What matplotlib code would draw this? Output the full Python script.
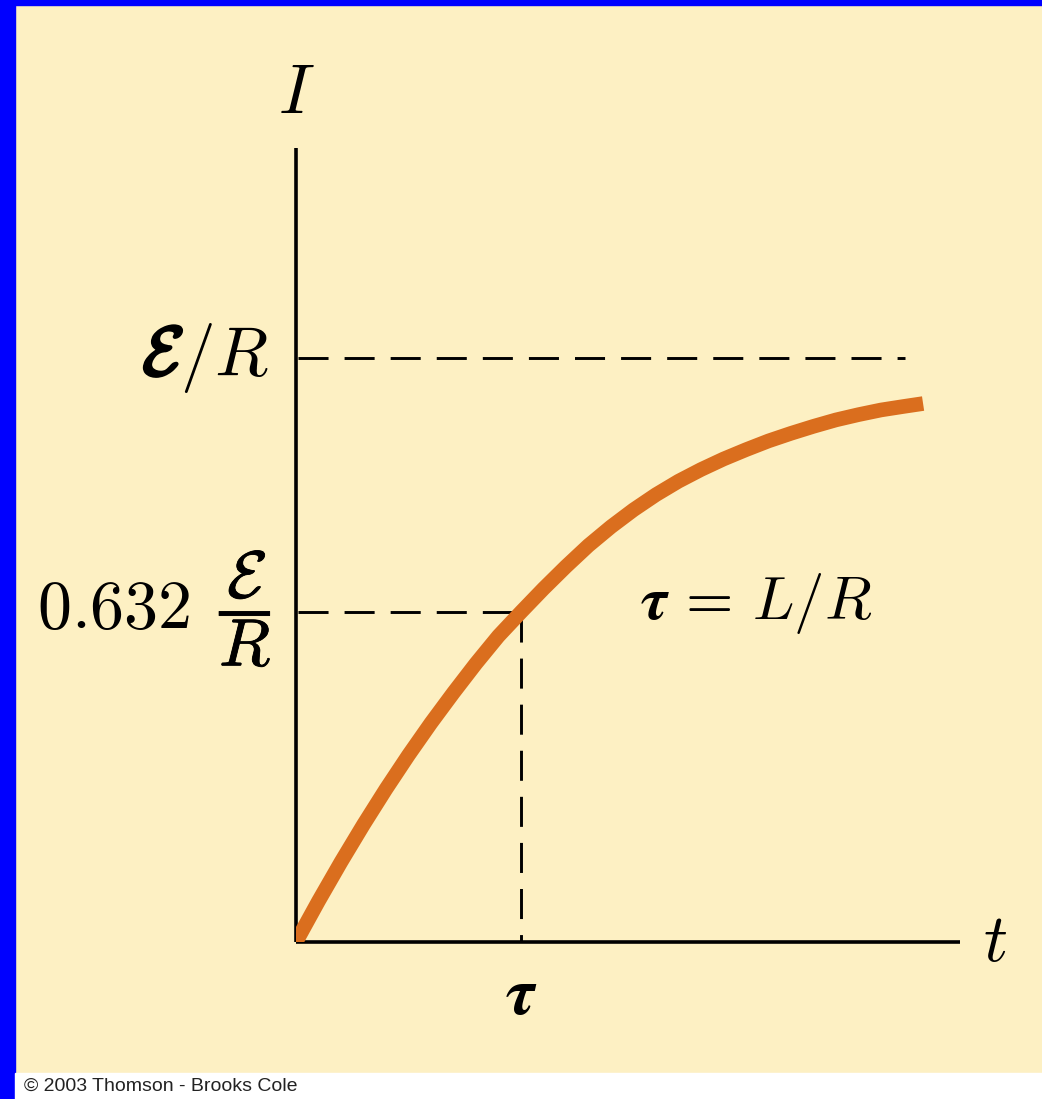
import matplotlib
matplotlib.use("Agg")
import matplotlib.pyplot as plt
from matplotlib.patches import Rectangle
import matplotlib.patheffects as pe

plt.rcParams['mathtext.fontset'] = 'cm'

# curve (t in units of tau, I in units of E/R)
t_vals = [0.0, 0.1, 0.2, 0.3, 0.4, 0.5, 0.6, 0.7, 0.8, 0.9, 1.0, 1.1, 1.2, 1.3, 1.4,
          1.5, 1.6, 1.7, 1.8, 1.9, 2.0, 2.1, 2.2, 2.3, 2.4, 2.5, 2.6, 2.7, 2.787]
i_vals = [0.0, 0.070, 0.137, 0.201, 0.262, 0.320, 0.375, 0.427, 0.477, 0.524, 0.565, 0.605,
          0.643, 0.679, 0.711, 0.740, 0.766, 0.789, 0.809, 0.827, 0.843, 0.858, 0.871,
          0.883, 0.894, 0.903, 0.911, 0.917, 0.922]

tau = 1.0
tau_level = 0.565   # where the 0.632 E/R dashed line sits
full_level = 1.0    # E/R
full_line_end = 2.707

cream = '#FDF0C3'
orange = '#DA6E1E'
blue = '#0000FF'

W, H = 1042, 1099
fig = plt.figure(figsize=(W/100, H/100), dpi=100, facecolor=cream)

# frame pieces
fig.patches.append(Rectangle((0, 0), 15/W, 1, transform=fig.transFigure, color=blue, zorder=-1))
fig.patches.append(Rectangle((0, 1 - 5/H), 1, 5/H, transform=fig.transFigure, color=blue, zorder=-1))
fig.patches.append(Rectangle((15/W, 0), 1, 26/H, transform=fig.transFigure, color='white', zorder=-1))

ax = fig.add_axes([296/W, (H-942)/H, 664/W, 794/H])
ax.set_facecolor('none')
ax.set_xlim(0, 664/225)
ax.set_ylim(0, 794/584)
for s in ['top', 'right']:
    ax.spines[s].set_visible(False)
for s in ['left', 'bottom']:
    ax.spines[s].set_linewidth(2.6)
    ax.spines[s].set_color('black')
    ax.spines[s].set_capstyle('butt')
ax.set_xticks([])
ax.set_yticks([])

# dashed guides
dash = dict(color='black', lw=2.1, dashes=(10.3, 5.5))
ax.plot([0.01, full_line_end], [full_level, full_level], **dash)
ax.plot([0.01, tau], [tau_level, tau_level], **dash)
ax.plot([tau, tau], [tau_level, 0], **dash)

# curve
ax.plot(t_vals, i_vals, color=orange, lw=10.5, solid_capstyle='butt', solid_joinstyle='round', zorder=3)

# labels
heavy = [pe.withStroke(linewidth=2.2, foreground='black')]
ax.text(0, 1.396, r'$I$', fontsize=50, ha='center', va='bottom', clip_on=False)
ax.text(3.107, 0.0, r'$t$', fontsize=48, ha='center', va='center', clip_on=False)
ax.text(tau, -0.034, r'$\boldsymbol{\tau}$', fontsize=48, ha='center', va='top', clip_on=False)
ax.text(-0.12, full_level, r'$/R$', fontsize=50, ha='right', va='center', clip_on=False)
ax.text(-0.50, full_level + 0.004, r'$\mathcal{E}$', fontsize=50, ha='right', va='center',
        clip_on=False, path_effects=heavy)
ax.text(-0.47, tau_level + 0.005, r'$0.632$', fontsize=49, ha='right', va='center', clip_on=False)
ax.text(-0.225, tau_level + 0.005, r'$\dfrac{\mathcal{E}}{R}$', fontsize=48, ha='center', va='center',
        clip_on=False, path_effects=[pe.withStroke(linewidth=0.6, foreground='black')])
ax.text(1.53, tau_level + 0.015, r'$\boldsymbol{\tau}\,{=}\,L/R$', fontsize=44, ha='left', va='center', clip_on=False)

fig.text(24/W, 1 - 1086/H, '\u00a9 2003 Thomson - Brooks Cole', fontsize=14, color='#222222',
         family=['Liberation Sans Narrow', 'Liberation Sans'], ha='left', va='center')

fig.savefig('out.png', dpi=100, facecolor=cream)
